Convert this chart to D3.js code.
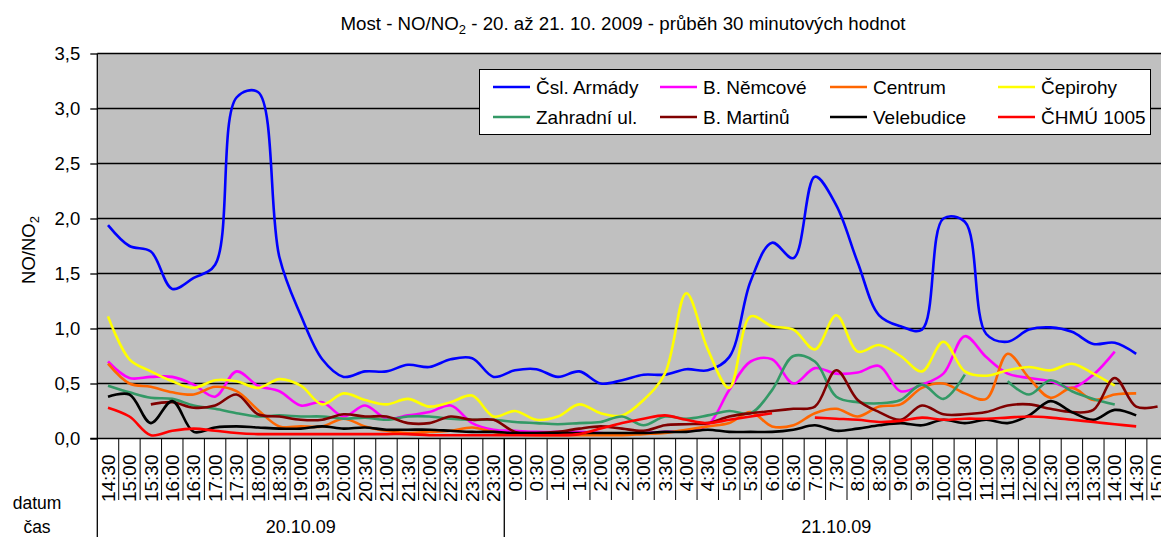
<!DOCTYPE html>
<html>
<head>
<meta charset="utf-8">
<script src="https://cdn.jsdelivr.net/npm/d3@7"></script>
<style>
  body { margin: 0; background: #fff; }
  svg { display: block; font-family: "Liberation Sans", Arial, sans-serif; }
</style>
</head>
<body>
<svg id="chart" width="1161" height="537"></svg>
<script>
var timeLabels = ["14:30","15:00","15:30","16:00","16:30","17:00","17:30","18:00","18:30","19:00",
    "19:30","20:00","20:30","21:00","21:30","22:00","22:30","23:00","23:30",
    "0:00","0:30","1:00","1:30","2:00","2:30","3:00","3:30","4:00","4:30","5:00",
    "5:30","6:00","6:30","7:00","7:30","8:00","8:30","9:00","9:30","10:00",
    "10:30","11:00","11:30","12:00","12:30","13:00","13:30","14:00","14:30","15:00"];
var dayLabels = ["20.10.09", "21.10.09"];
var dayCounts = [19, 31];
var yTicks = [0, 0.5, 1, 1.5, 2, 2.5, 3, 3.5];

var armady = [1.94,1.75,1.70,1.36,1.46,1.58,3.10,3.15,1.65,1.12,0.72,0.56,0.61,0.61,0.67,0.65,0.72,0.73,0.56,
    0.62,0.63,0.56,0.61,0.50,0.53,0.58,0.58,0.63,0.62,0.74,1.43,1.78,1.64,2.38,2.12,1.60,1.12,1.02,0.99,2.00,
    1.97,0.95,0.88,0.99,1.01,0.97,0.86,0.87,0.77,null];
var nemcove = [0.70,0.55,0.56,0.56,0.49,0.38,0.61,0.48,0.43,0.30,0.33,0.20,0.30,0.18,0.21,0.24,0.30,0.14,0.08,
    0.07,0.06,0.06,0.06,0.05,0.04,0.05,0.06,0.07,0.12,0.44,0.70,0.72,0.50,0.64,0.59,0.60,0.66,0.43,0.49,0.59,
    0.93,0.74,0.59,0.55,0.52,0.46,0.58,0.79,null,null];
var centrum = [0.68,0.50,0.47,0.42,0.40,0.47,0.43,0.26,0.11,0.11,0.11,0.18,0.11,0.07,0.05,0.06,0.07,0.10,0.06,
    0.04,0.03,0.03,0.03,0.03,0.03,0.04,0.05,0.08,0.11,0.14,0.24,0.11,0.12,0.23,0.27,0.20,0.29,0.31,0.46,0.50,
    0.41,0.36,0.77,0.55,0.37,0.46,0.35,0.40,0.41,null];
var cepirohy = [1.11,0.72,0.61,0.52,0.46,0.53,0.52,0.46,0.54,0.48,0.31,0.41,0.35,0.31,0.36,0.29,0.33,0.39,0.20,
    0.25,0.17,0.20,0.31,0.23,0.21,0.35,0.59,1.32,0.81,0.46,1.11,1.02,0.99,0.81,1.12,0.79,0.85,0.75,0.61,0.88,
    0.61,0.57,0.62,0.65,0.62,0.68,0.59,0.48,null,null];
var zahradni = [0.48,0.42,0.37,0.36,0.30,0.27,0.23,0.20,0.21,0.20,0.20,0.18,0.19,0.17,0.20,0.20,0.18,0.17,0.17,
    0.15,0.14,0.13,0.14,0.15,0.20,0.12,0.20,0.18,0.21,0.25,0.23,0.44,0.75,0.70,0.38,0.33,0.32,0.35,0.49,0.36,
    0.58,null,0.52,0.40,0.53,0.43,0.36,0.31,null,null];
var martinu = [null,null,0.31,0.33,0.28,0.30,0.40,0.22,0.20,0.17,0.17,0.22,0.20,0.20,0.14,0.14,0.20,0.17,0.17,
    0.06,0.05,0.06,0.09,0.11,0.09,0.07,0.12,0.13,0.14,0.20,0.23,0.25,0.27,0.29,0.62,0.35,0.24,0.17,0.30,0.22,
    0.22,0.24,0.30,0.31,0.27,0.24,0.26,0.55,0.29,0.29];
var velebudice = [0.38,0.40,0.14,0.34,0.06,0.10,0.11,0.10,0.09,0.09,0.11,0.09,0.10,0.08,0.08,0.08,0.07,0.06,0.06,
    0.05,0.05,0.05,0.05,0.05,0.05,0.05,0.06,0.06,0.08,0.06,0.06,0.06,0.08,0.12,0.07,0.09,0.12,0.14,0.12,0.17,
    0.14,0.17,0.14,0.21,0.34,0.24,0.17,0.26,0.21,null];
var chmu = [0.28,0.20,0.03,0.07,0.09,0.07,0.05,0.04,0.04,0.04,0.04,0.04,0.04,0.04,0.04,0.03,0.03,0.03,0.03,
    0.03,0.03,0.03,0.04,0.09,0.14,0.18,0.21,0.17,0.14,0.17,0.20,0.23,null,0.19,0.18,0.17,0.15,0.16,0.19,0.17,
    0.18,0.18,0.19,0.20,0.19,0.17,0.15,0.13,0.11,null];

var seriesNames = ["Čsl. Armády","B. Němcové","Centrum","Čepirohy","Zahradní ul.","B. Martinů","Velebudice","ČHMÚ 1005"];
var seriesValues = [armady, nemcove, centrum, cepirohy, zahradni, martinu, velebudice, chmu];
var seriesColors = ["#0000ff","#ff00ff","#ff6600","#ffff00","#339966","#800000","#000000","#ff0000"];

var plotLeft = 97.3, plotTop = 53.5, plotBottom = 438.5, plotRight = plotLeft + 50 * 21.42;
var svg = d3.select("#chart");

var x = d3.scaleBand().domain(d3.range(timeLabels.length)).range([plotLeft, plotRight]);
var y = d3.scaleLinear().domain([0, 3.5]).range([plotBottom, plotTop]);

// title
var title = svg.append("text")
    .attr("x", 623).attr("y", 30)
    .attr("text-anchor", "middle")
    .style("font-size", "18.7px");
title.append("tspan").text("Most - NO/NO");
title.append("tspan").attr("dy", 4).style("font-size", "13px").text("2");
title.append("tspan").attr("dy", -4).text(" - 20. až 21. 10. 2009 - průběh 30 minutových hodnot");

// plot area
svg.append("rect")
    .attr("x", plotLeft).attr("y", plotTop)
    .attr("width", plotRight - plotLeft).attr("height", plotBottom - plotTop)
    .attr("fill", "#c0c0c0");

svg.append("g").selectAll("line")
    .data(yTicks.slice(1))
    .enter().append("line")
    .attr("x1", plotLeft).attr("x2", plotRight)
    .attr("y1", function(d) { return y(d); })
    .attr("y2", function(d) { return y(d); })
    .attr("stroke", "#000").attr("stroke-width", 1.3);

// y axis
var yAxis = svg.append("g")
    .attr("transform", "translate(" + plotLeft + ",0)")
    .call(d3.axisLeft(y).tickValues(yTicks).tickSize(7).tickPadding(10)
        .tickFormat(function(d) { return d.toFixed(1).replace(".", ","); }));
yAxis.select(".domain").remove();
yAxis.selectAll("line").attr("stroke-width", 1.3);
yAxis.selectAll("text").style("font-size", "18.5px").attr("fill", "#000");

var yLabel = svg.append("text")
    .attr("transform", "translate(35,250) rotate(-90)")
    .attr("text-anchor", "middle")
    .style("font-size", "18.5px");
yLabel.append("tspan").text("NO/NO");
yLabel.append("tspan").attr("dy", 4).style("font-size", "13px").text("2");

// series
var line = d3.line()
    .defined(function(d) { return d != null; })
    .x(function(d, i) { return x(i) + x.bandwidth() / 2; })
    .y(function(d) { return y(d); })
    .curve(d3.curveCatmullRom);

svg.append("g").selectAll("path")
    .data(seriesValues)
    .enter().append("path")
    .attr("d", line)
    .attr("fill", "none")
    .attr("stroke", function(d, i) { return seriesColors[i]; })
    .attr("stroke-width", 2.6)
    .attr("stroke-linejoin", "round");

// axes lines
svg.append("line").attr("x1", plotLeft).attr("x2", plotLeft).attr("y1", plotTop).attr("y2", 537)
    .attr("stroke", "#000").attr("stroke-width", 1.3);
svg.append("line").attr("x1", plotLeft - 7).attr("x2", plotRight).attr("y1", plotBottom).attr("y2", plotBottom)
    .attr("stroke", "#000").attr("stroke-width", 1.6);

// category divider lines
svg.append("g").selectAll("line")
    .data(d3.range(1, timeLabels.length + 1))
    .enter().append("line")
    .attr("x1", function(i) { return x(i) || plotRight; })
    .attr("x2", function(i) { return x(i) || plotRight; })
    .attr("y1", plotBottom).attr("y2", 500)
    .attr("stroke", "#000").attr("stroke-width", 1);

var xAxis = svg.append("g")
    .attr("transform", "translate(0," + plotBottom + ")")
    .call(d3.axisBottom(x).tickSize(0).tickFormat(function(i) { return timeLabels[i]; }));
xAxis.select(".domain").remove();
xAxis.selectAll("text")
    .attr("transform", "translate(0,16) rotate(-90)")
    .attr("text-anchor", "end")
    .attr("x", 0).attr("y", 0).attr("dy", "0.35em")
    .style("font-size", "19px").attr("fill", "#000");

// day groups
var start = 0;
dayLabels.forEach(function(label, k) {
    var x0 = x(start), end = start + dayCounts[k];
    var x1 = end < timeLabels.length ? x(end) : plotRight;
    svg.append("text")
        .attr("x", (x0 + x1) / 2).attr("y", 533)
        .attr("text-anchor", "middle")
        .style("font-size", "18px")
        .text(label);
    if (k > 0) {
        svg.append("line").attr("x1", x0).attr("x2", x0).attr("y1", plotBottom).attr("y2", 537)
            .attr("stroke", "#000").attr("stroke-width", 1.3);
    }
    start = end;
});

svg.append("text").attr("x", 37).attr("y", 509).attr("text-anchor", "middle")
    .style("font-size", "17.5px").text("datum");
svg.append("text").attr("x", 37).attr("y", 533).attr("text-anchor", "middle")
    .style("font-size", "17.5px").text("čas");

// legend
var legend = svg.append("g");
legend.append("rect")
    .attr("x", 479.5).attr("y", 69.5).attr("width", 671).attr("height", 65)
    .attr("fill", "#fff").attr("stroke", "#000").attr("stroke-width", 1);
var colX = [493, 660, 830, 998];
var rowY = [87, 117];
var items = legend.selectAll("g.item")
    .data(seriesNames)
    .enter().append("g")
    .attr("transform", function(d, i) {
        return "translate(" + colX[i % 4] + "," + rowY[Math.floor(i / 4)] + ")";
    });
items.append("line")
    .attr("x1", 0).attr("x2", 37).attr("y1", 0).attr("y2", 0)
    .attr("stroke", function(d, i) { return seriesColors[i]; })
    .attr("stroke-width", 2.6);
items.append("text")
    .attr("x", 43).attr("dy", "0.35em")
    .style("font-size", "19px")
    .text(function(d) { return d; });
</script>
</body>
</html>
